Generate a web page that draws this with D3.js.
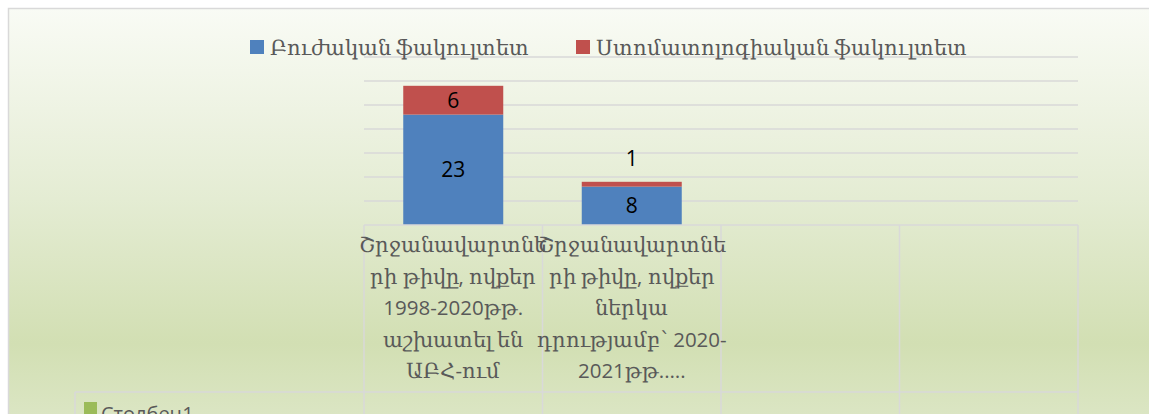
<!DOCTYPE html>
<html>
<head>
<meta charset="utf-8">
<script src="https://cdn.jsdelivr.net/npm/d3@7"></script>
<style>
  @font-face {
    font-family: "ArmSerif";
    src: local("DejaVu Serif");
    unicode-range: U+0530-058F;
  }
  body { margin: 0; background: #fff; }
  text { font-family: "ArmSerif", "Open Sans", sans-serif; }
</style>
</head>
<body>
<div id="chart"></div>
<script>
// data
var categories = ["c1", "c2", "c3", "c4"];
var catLabels = [
  ["Շրջանավարտնե", "րի թիվը, ովքեր", "1998-2020թթ.", "աշխատել են", "ԱԲՀ-ում"],
  ["Շրջանավարտնե", "րի թիվը, ովքեր", "ներկա", "դրությամբ՝ 2020-", "2021թթ.…."],
  [],
  []
];
var seriesNames = ["Բուժական ֆակուլտետ", "Ստոմատոլոգիական ֆակուլտետ", "Столбец1"];
var bujakan = [23, 8, null, null];
var stomat = [6, 1, null, null];
var yTicks = [0, 5, 10, 15, 20, 25, 30, 35];
var colors = ["#4f81bd", "#c0504d", "#9bbb59"];

var W = 1149, H = 414;
var svg = d3.select("#chart").append("svg")
  .attr("width", W).attr("height", H);

// background gradient
var grad = svg.append("defs").append("linearGradient")
  .attr("id", "bg").attr("x1", 0).attr("y1", 0).attr("x2", 0).attr("y2", 1);
grad.append("stop").attr("offset", 0).attr("stop-color", "#f9fbf5");
grad.append("stop").attr("offset", 0.45).attr("stop-color", "#e4ecd3");
grad.append("stop").attr("offset", 0.79).attr("stop-color", "#d2dfb3");
grad.append("stop").attr("offset", 1).attr("stop-color", "#dde7c7");

svg.append("rect")
  .attr("x", 8.5).attr("y", 8.5)
  .attr("width", W + 10).attr("height", H + 10)
  .attr("fill", "url(#bg)")
  .attr("stroke", "#d9d9d9").attr("stroke-width", 1.5);

// scales
var x = d3.scaleBand().domain(categories).range([364, 1078]).paddingInner(0).paddingOuter(0);
var y = d3.scaleLinear().domain([0, 35]).range([225, 57]);
var barW = 100;

// gridlines
svg.append("g").selectAll("line")
  .data(yTicks.slice(1))
  .join("line")
  .attr("x1", 364).attr("x2", 1078)
  .attr("y1", d => y(d)).attr("y2", d => y(d))
  .attr("stroke", "#d9d9d9").attr("stroke-width", 1.5);

// stacked bars
var stackData = categories.map((c, i) => ({ cat: c, b: bujakan[i] || 0, s: stomat[i] || 0 }));
var stacked = d3.stack().keys(["b", "s"])(stackData);
svg.append("g").selectAll("g")
  .data(stacked)
  .join("g")
  .attr("fill", (d, i) => colors[i])
  .selectAll("rect")
  .data(d => d.filter(p => p[1] > p[0]))
  .join("rect")
  .attr("x", d => x(d.data.cat) + (x.bandwidth() - barW) / 2)
  .attr("width", barW)
  .attr("y", d => y(d[1]))
  .attr("height", d => y(d[0]) - y(d[1]));

// data labels
var lbl = svg.append("g").attr("font-size", 21).attr("fill", "#000").attr("text-anchor", "middle");
categories.forEach(function (c, i) {
  var cx = x(c) + x.bandwidth() / 2;
  if (bujakan[i] != null) {
    lbl.append("text").attr("x", cx).attr("y", y(bujakan[i] / 2)).attr("dy", "0.36em").text(bujakan[i]);
  }
  if (stomat[i] != null) {
    var top = bujakan[i] + stomat[i];
    var h = y(bujakan[i]) - y(top);
    // small segment: label sits above the bar
    var ly = h > 20 ? y(bujakan[i] + stomat[i] / 2) : y(top) - 23;
    lbl.append("text").attr("x", cx).attr("y", ly).attr("dy", "0.36em").text(stomat[i]);
  }
});

// data table
var tbl = svg.append("g").attr("stroke", "#d9d9d9").attr("stroke-width", 1.5);
var rowTop = 225, rowMid = 392;
tbl.append("line").attr("x1", 364).attr("x2", 1078).attr("y1", rowTop).attr("y2", rowTop);
tbl.append("line").attr("x1", 75).attr("x2", 1078).attr("y1", rowMid).attr("y2", rowMid);
x.domain().concat(["end"]).forEach(function (c) {
  var xx = c === "end" ? 1078 : x(c);
  tbl.append("line").attr("x1", xx).attr("x2", xx).attr("y1", rowTop).attr("y2", H + 5);
});
tbl.append("line").attr("x1", 75).attr("x2", 75).attr("y1", rowMid).attr("y2", H + 5);

// category labels
var cl = svg.append("g").attr("font-size", 20.5).attr("fill", "#595959").attr("text-anchor", "middle");
categories.forEach(function (c, i) {
  var cx = x(c) + x.bandwidth() / 2;
  catLabels[i].forEach(function (t, j) {
    cl.append("text").attr("x", cx).attr("y", 252 + j * 31.6).text(t);
  });
});

// table legend key (Столбец1)
svg.append("rect").attr("x", 84).attr("y", 402).attr("width", 13).attr("height", 13).attr("fill", colors[2]);
svg.append("text").attr("x", 101).attr("y", 421).attr("font-size", 20).attr("fill", "#595959").text(seriesNames[2]);

// top legend
var legX = [250, 576];
var leg = svg.append("g");
[0, 1].forEach(function (i) {
  leg.append("rect").attr("x", legX[i]).attr("y", 40).attr("width", 14).attr("height", 14).attr("fill", colors[i]);
  leg.append("text").attr("x", legX[i] + 20).attr("y", 55).attr("font-size", 20.5).attr("fill", "#595959").text(seriesNames[i]);
});
</script>
</body>
</html>
